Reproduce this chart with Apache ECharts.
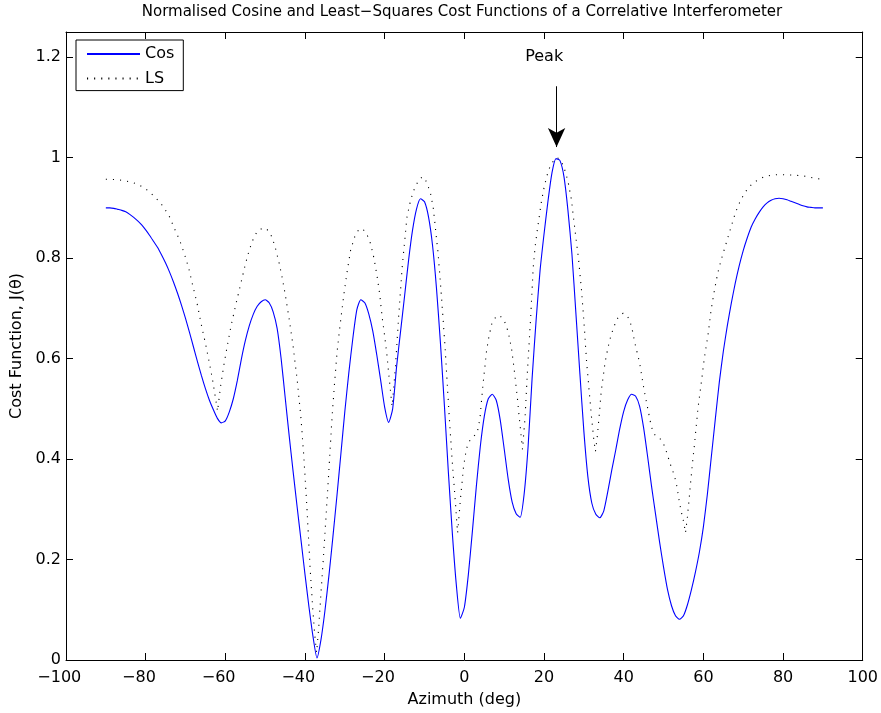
<!DOCTYPE html>
<html>
<head>
<meta charset="utf-8">
<title>Cost Functions</title>
<script src="https://cdn.jsdelivr.net/npm/echarts@6/dist/echarts.min.js"></script>
<style>
  html, body { margin: 0; padding: 0; background: #fff; }
  #chart { width: 881px; height: 713px; }
</style>
</head>
<body>
<div id="chart"></div>
<script>
// Normalised cosine cost function, sampled every degree of azimuth
const COS_AZ = [
  -90,-89,-88,-87,-86,-85,-84,-83,-82,-81,-80,-79,-78,-77,-76,-75,-74,-73,-72,-71,
  -70,-69,-68,-67,-66,-65,-64,-63,-62,-61,-60,-59,-58,-57,-56,-55,-54,-53,-52,-51,
  -50,-49,-48,-47,-46,-45,-44,-43,-42,-41,-40,-39,-38,-37,-36,-35,-34,-33,-32,-31,
  -30,-29,-28,-27,-26,-25,-24,-23,-22,-21,-20,-19,-18,-17,-16,-15,-14,-13,-12,-11,
  -10,-9,-8,-7,-6,-5,-4,-3,-2,-1,0,1,2,3,4,5,6,7,8,9,
  10,11,12,13,14,15,16,17,18,19,20,21,22,23,24,25,26,27,28,29,
  30,31,32,33,34,35,36,37,38,39,40,41,42,43,44,45,46,47,48,49,
  50,51,52,53,54,55,56,57,58,59,60,61,62,63,64,65,66,67,68,69,
  70,71,72,73,74,75,76,77,78,79,80,81,82,83,84,85,86,87,88,89,90
];
const COS_VAL = [
  0.900,0.900,0.899,0.897,0.895,0.892,0.887,0.881,0.874,0.866,0.856,0.845,0.833,0.821,0.806,0.790,0.772,0.752,0.730,0.706,
  0.680,0.652,0.623,0.594,0.566,0.540,0.517,0.498,0.481,0.472,0.476,0.494,0.520,0.556,0.598,0.635,0.665,0.688,0.704,0.713,
  0.717,0.711,0.693,0.660,0.600,0.524,0.448,0.376,0.306,0.238,0.170,0.105,0.047,0.004,0.040,0.098,0.168,0.245,0.326,0.410,
  0.495,0.572,0.640,0.697,0.717,0.711,0.689,0.655,0.608,0.556,0.503,0.473,0.500,0.585,0.655,0.725,0.796,0.856,0.898,0.918,
  0.912,0.882,0.826,0.740,0.630,0.505,0.372,0.250,0.148,0.083,0.105,0.170,0.255,0.345,0.425,0.485,0.520,0.529,0.517,0.478,
  0.420,0.360,0.314,0.291,0.284,0.330,0.425,0.560,0.675,0.775,0.848,0.914,0.970,0.998,0.994,0.962,0.895,0.808,0.690,0.570,
  0.455,0.365,0.312,0.290,0.283,0.297,0.335,0.378,0.418,0.460,0.495,0.518,0.529,0.525,0.505,0.462,0.405,0.345,0.290,0.235,
  0.185,0.140,0.108,0.088,0.081,0.088,0.110,0.140,0.175,0.215,0.265,0.330,0.405,0.480,0.553,0.614,0.665,0.710,0.750,0.785,
  0.815,0.840,0.862,0.878,0.891,0.902,0.910,0.915,0.918,0.919,0.918,0.916,0.913,0.910,0.907,0.904,0.902,0.901,0.900,0.900,0.900
];

// Least-squares cost function (azimuth in degrees, cost)
const LS_AZ = [
  -90,-87,-84,-82,-80.5,-79,-77.8,-76.5,-75.3,-74,-72.8,-71.5,-70.3,-69.2,-68.2,-67.1,-66.1,-65,-64,-63.1,
  -62.4,-61.95,-61.2,-60.3,-59.4,-58.6,-57.3,-56.1,-55,-54,-53,-52,-51,-50,-49,-48.2,-47.3,-46.5,-45.7,-44.8,
  -44,-43,-42,-41,-40.3,-39.5,-38.7,-38,-37.5,-37.1,-36.6,-36.1,-35.25,-34.2,-33.2,-32.5,-31.9,-31,-30.2,-29.4,
  -28.55,-27.5,-26.5,-25.5,-24.5,-23.55,-22.7,-21.9,-21.2,-20.65,-20,-19.4,-18.8,-18.15,-17.7,-17.3,-16.5,-15.6,-14.4,-13.5,
  -12.7,-11.5,-10.5,-9.5,-8.5,-7.8,-7.3,-6.6,-6,-5.4,-4.8,-4.3,-3.8,-3.3,-2.95,-2.3,-1.7,-1.3,-1,-0.2,
  0.5,1.2,2.3,3.2,3.9,4.55,5.1,5.6,6.2,6.9,7.9,8.6,9.2,10,10.6,11.3,11.9,12.4,12.9,13.35,
  13.75,14.2,14.6,14.9,15.25,15.9,16.65,17.3,17.8,18.3,19.4,20,20.65,21.3,21.9,22.6,23.3,24,24.8,25.5,
  26.1,26.9,27.4,28,28.6,29.4,30.1,30.65,31.3,31.9,32.4,32.9,33.3,33.6,34.4,35.3,36,36.5,37.3,38.2,
  39,39.85,40.7,41.5,42.2,42.8,44,45.1,46.1,46.8,47.4,48,48.6,49.5,50.3,51.1,51.9,52.6,53.2,53.6,
  54,54.6,55.1,55.5,56,56.4,57.1,57.8,58.6,59.45,60.3,61.1,61.95,62.8,63.6,64.45,65.7,66.95,67.8,68.6,
  69.5,70.3,71.3,72.4,73.8,75.3,77,78.6,80.7,82.8,84.5,86.2,88.5,90
];
const LS_VAL = [
  0.957,0.956,0.952,0.947,0.940,0.932,0.922,0.912,0.899,0.882,0.859,0.836,0.809,0.780,0.746,0.710,0.670,0.630,0.591,0.553,
  0.518,0.495,0.545,0.591,0.630,0.664,0.710,0.750,0.787,0.816,0.838,0.853,0.858,0.860,0.853,0.840,0.816,0.790,0.760,0.720,
  0.680,0.625,0.560,0.480,0.405,0.300,0.180,0.095,0.045,0.015,0.060,0.121,0.220,0.352,0.485,0.560,0.617,0.680,0.730,0.775,
  0.816,0.843,0.857,0.858,0.848,0.829,0.800,0.763,0.725,0.683,0.645,0.604,0.555,0.505,0.545,0.584,0.683,0.783,0.882,0.915,
  0.935,0.955,0.962,0.952,0.929,0.900,0.862,0.810,0.750,0.685,0.617,0.550,0.485,0.425,0.385,0.319,0.253,0.290,0.319,0.385,
  0.420,0.435,0.445,0.452,0.480,0.538,0.580,0.617,0.645,0.670,0.683,0.686,0.683,0.675,0.664,0.642,0.617,0.585,0.551,0.518,
  0.485,0.450,0.419,0.450,0.485,0.584,0.683,0.783,0.825,0.856,0.915,0.940,0.962,0.978,0.988,0.996,1.000,0.996,0.985,0.968,
  0.949,0.915,0.880,0.840,0.803,0.737,0.664,0.597,0.538,0.485,0.445,0.415,0.440,0.465,0.538,0.591,0.620,0.637,0.658,0.677,
  0.686,0.690,0.686,0.677,0.655,0.631,0.591,0.538,0.498,0.470,0.452,0.447,0.445,0.437,0.425,0.405,0.385,0.370,0.352,0.333,
  0.313,0.290,0.273,0.253,0.285,0.319,0.379,0.432,0.498,0.551,0.604,0.644,0.697,0.737,0.770,0.796,0.829,0.862,0.884,0.902,
  0.917,0.929,0.940,0.949,0.956,0.962,0.965,0.966,0.966,0.965,0.964,0.962,0.958,0.957
];

// Annotation: arrow pointing at the main lobe
const PEAK_LABEL = 'Peak';
const PEAK_ARROW_AZ = 23.15;
const PEAK_ARROW_FROM = 1.142;
const PEAK_ARROW_TO = 1.021;
const PEAK_TEXT_POS = [20.03, 1.2005];

// Axis ticks
const X_TICKS = { min: -100, max: 100, step: 20 };
const Y_TICKS = { min: 0, max: 1.25, step: 0.2 };

const FONT = "'DejaVu Sans', 'Liberation Sans', Arial, sans-serif";

function pairs(xs, ys) { return xs.map((x, i) => [x, ys[i]]); }
// Negative tick labels: digits stay centred on the tick, the minus sign hangs to the left
function minusFmt(v) {
  return v < 0 ? '{m|\u2212}' + (-v) + '{h|\u2212}' : String(v);
}

const axisBase = {
  axisLine: { show: true, onZero: false, lineStyle: { color: '#000', width: 1 } },
  axisTick: { show: true, inside: true, length: 7, lineStyle: { color: '#000', width: 1 } },
  splitLine: { show: false }
};

const chart = echarts.init(document.getElementById('chart'), null, { renderer: 'canvas' });

chart.setOption({
  animation: false,
  backgroundColor: '#fff',
  textStyle: { fontFamily: FONT },
  title: {
    text: 'Normalised Cosine and Least\u2212Squares Cost Functions of a Correlative Interferometer',
    left: 462,
    textAlign: 'center',
    top: 5,
    padding: 0,
    textStyle: { fontFamily: FONT, fontSize: 15, fontWeight: 'normal', color: '#000' }
  },
  grid: { left: 66, right: 16, top: 32, bottom: 52, containLabel: false },
  legend: {
    left: 76, top: 40,
    orient: 'vertical',
    backgroundColor: '#fff',
    borderColor: '#000', borderWidth: 1,
    padding: [5, 9, 3, 10],
    itemWidth: 53, itemHeight: 12, itemGap: 6.6,
    itemStyle: { opacity: 0, color: 'rgba(0,0,0,0)', borderWidth: 0 },
    textStyle: { fontFamily: FONT, fontSize: 16, color: '#000', lineHeight: 18 },
    data: ['Cos', 'LS']
  },
  xAxis: [
    Object.assign({}, axisBase, {
      type: 'value', position: 'bottom',
      min: X_TICKS.min, max: X_TICKS.max, interval: X_TICKS.step,
      axisLabel: {
        color: '#000', fontSize: 16, fontFamily: FONT, margin: 10, formatter: minusFmt,
        rich: {
          m: { color: '#000', fontSize: 16, fontFamily: FONT },
          h: { color: 'rgba(0,0,0,0)', fontSize: 16, fontFamily: FONT }
        }
      },
      name: 'Azimuth (deg)', nameLocation: 'middle', nameGap: 32,
      nameTextStyle: { color: '#000', fontSize: 16, fontFamily: FONT }
    }),
    Object.assign({}, axisBase, {
      type: 'value', position: 'top',
      min: X_TICKS.min, max: X_TICKS.max, interval: X_TICKS.step,
      axisLabel: { show: false }
    })
  ],
  yAxis: [
    Object.assign({}, axisBase, {
      type: 'value', position: 'left',
      min: Y_TICKS.min, max: Y_TICKS.max, interval: Y_TICKS.step,
      axisLabel: {
        color: '#000', fontSize: 16, fontFamily: FONT, margin: 5,
        showMaxLabel: false,
        formatter: v => (Math.abs(v - Y_TICKS.max) < 1e-9 ? '' : String(+v.toFixed(2)))
      },
      name: 'Cost Function, J(\u03b8)', nameLocation: 'middle', nameGap: 38, nameRotate: 90,
      nameTextStyle: { color: '#000', fontSize: 16, fontFamily: FONT }
    }),
    Object.assign({}, axisBase, {
      type: 'value', position: 'right',
      min: Y_TICKS.min, max: Y_TICKS.max, interval: Y_TICKS.step,
      axisLabel: { show: false }
    })
  ],
  series: [
    {
      name: 'Cos',
      type: 'line',
      xAxisIndex: 0, yAxisIndex: 0,
      data: pairs(COS_AZ, COS_VAL),
      showSymbol: false, symbol: 'none',
      smooth: 0.2,
      lineStyle: { color: '#0000ff', width: 1.1 },
      itemStyle: { color: '#0000ff' },
      z: 3,
      markLine: {
        silent: true,
        animation: false,
        symbol: ['none', 'arrow'],
        label: { show: false },
        lineStyle: { color: '#000', width: 1, type: 'solid' },
        data: [[
          { coord: [PEAK_ARROW_AZ, PEAK_ARROW_FROM], symbol: 'none' },
          { coord: [PEAK_ARROW_AZ, PEAK_ARROW_TO], symbol: 'arrow', symbolSize: [13, 19] }
        ]]
      },
      markPoint: {
        silent: true,
        animation: false,
        symbol: 'circle', symbolSize: 1,
        itemStyle: { color: 'rgba(0,0,0,0)' },
        label: { show: true, position: 'inside', color: '#000', fontSize: 16, fontFamily: FONT, formatter: PEAK_LABEL },
        data: [{ coord: PEAK_TEXT_POS }]
      }
    },
    {
      name: 'LS',
      type: 'line',
      xAxisIndex: 0, yAxisIndex: 0,
      data: pairs(LS_AZ, LS_VAL),
      showSymbol: false, symbol: 'none',
      smooth: false,
      lineStyle: { color: '#000', width: 1.1, type: [1.1, 6] },
      itemStyle: { color: '#000' },
      z: 2
    }
  ]
});
</script>
</body>
</html>
